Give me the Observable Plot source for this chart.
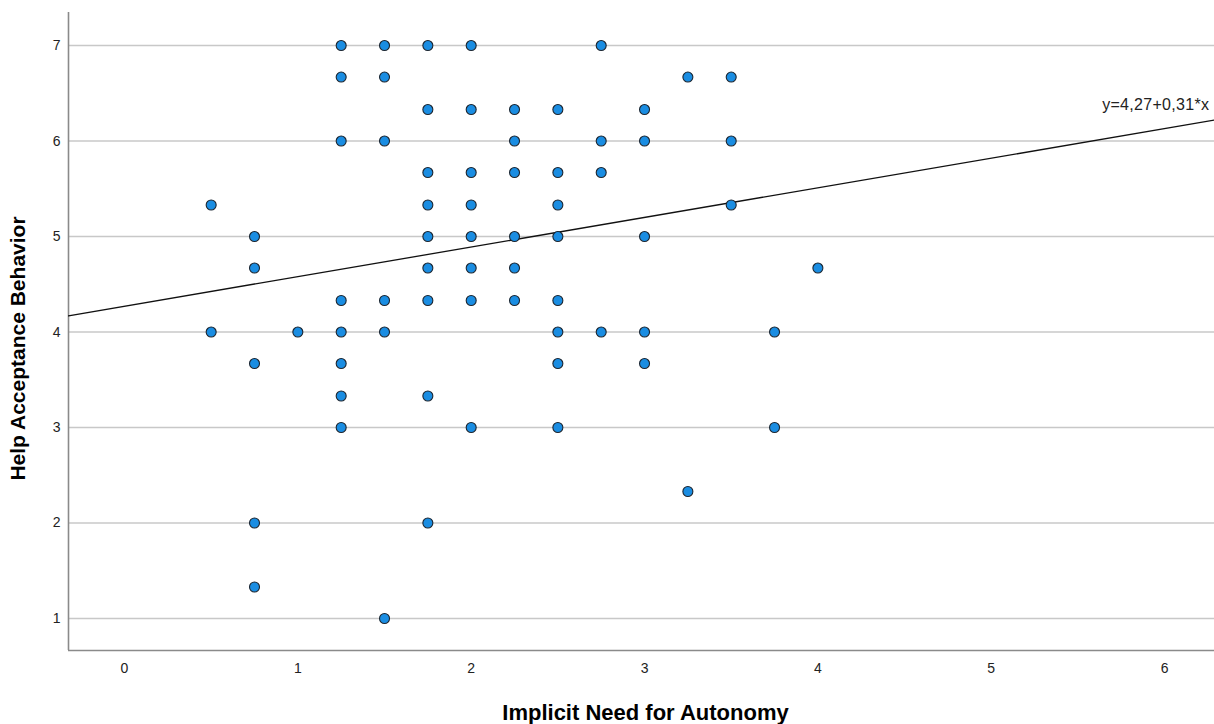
<!DOCTYPE html>
<html>
<head>
<meta charset="utf-8">
<script src="https://cdn.jsdelivr.net/npm/d3@7"></script>
<script src="https://cdn.jsdelivr.net/npm/@observablehq/plot@0.6"></script>
<style>
  html, body { margin: 0; padding: 0; background: #fff; overflow: hidden; }
</style>
</head>
<body>
<div id="chart"></div>
<script>
// Implicit Need for Autonomy (x) paired with Help Acceptance Behavior (y)
const autonomy = [
  1.25, 1.5, 1.75, 2, 2.75,
  1.25, 1.5, 3.25, 3.5,
  1.75, 2, 2.25, 2.5, 3,
  1.25, 1.5, 2.25, 2.75, 3, 3.5,
  1.75, 2, 2.25, 2.5, 2.75,
  0.5, 1.75, 2, 2.5, 3.5,
  0.75, 1.75, 2, 2.25, 2.5, 3,
  0.75, 1.75, 2, 2.25, 4,
  1.25, 1.5, 1.75, 2, 2.25, 2.5,
  0.5, 1, 1.25, 1.5, 2.5, 2.75, 3, 3.75,
  0.75, 1.25, 2.5, 3,
  1.25, 1.75,
  1.25, 2, 2.5, 3.75,
  3.25,
  0.75, 1.75,
  0.75,
  1.5
];
const helpAcceptance = [
  7, 7, 7, 7, 7,
  6.67, 6.67, 6.67, 6.67,
  6.33, 6.33, 6.33, 6.33, 6.33,
  6, 6, 6, 6, 6, 6,
  5.67, 5.67, 5.67, 5.67, 5.67,
  5.33, 5.33, 5.33, 5.33, 5.33,
  5, 5, 5, 5, 5, 5,
  4.67, 4.67, 4.67, 4.67, 4.67,
  4.33, 4.33, 4.33, 4.33, 4.33, 4.33,
  4, 4, 4, 4, 4, 4, 4, 4,
  3.67, 3.67, 3.67, 3.67,
  3.33, 3.33,
  3, 3, 3, 3,
  2.33,
  2, 2,
  1.33,
  1
];
const xTicks = [0, 1, 2, 3, 4, 5, 6];
const yTicks = [1, 2, 3, 4, 5, 6, 7];
const fitIntercept = 4.27;
const fitSlope = 0.31;
const fitLabel = "y=4,27+0,31*x";
const xTitle = "Implicit Need for Autonomy";
const yTitle = "Help Acceptance Behavior";

const xDomain = [-0.323, 6.288];
const yDomain = [0.665, 7.346];

const points = autonomy.map((x, i) => ({x, y: helpAcceptance[i]}));
const fitLine = xDomain.map(x => ({x, y: fitIntercept + fitSlope * x}));

const font = "'Liberation Sans', Arial, Helvetica, sans-serif";

const chart = Plot.plot({
  width: 1214,
  height: 724,
  marginLeft: 68,
  marginRight: 0,
  marginTop: 12,
  marginBottom: 74,
  style: {fontFamily: font, fontSize: "14px", color: "#222", background: "#fff"},
  x: {domain: xDomain, ticks: xTicks},
  y: {domain: yDomain, ticks: yTicks},
  marks: [
    Plot.ruleY(yTicks, {stroke: "#c8c8c8", strokeWidth: 1.6}),
    Plot.ruleX([xDomain[0]], {stroke: "#8a8a8a", strokeWidth: 1.6}),
    Plot.ruleY([yDomain[0]], {stroke: "#8a8a8a", strokeWidth: 1.6}),
    Plot.axisX({ticks: xTicks, tickSize: 0, tickPadding: 13, label: null, fontSize: 14, tickFormat: d => String(d)}),
    Plot.axisY({ticks: yTicks, tickSize: 0, tickPadding: 8, label: null, fontSize: 14, tickFormat: d => String(d)}),
    Plot.line(fitLine, {x: "x", y: "y", stroke: "#111", strokeWidth: 1.3, clip: true}),
    Plot.dot(points, {x: "x", y: "y", r: 5, fill: "#1a8de2", stroke: "#1b2530", strokeWidth: 1.1}),
    Plot.text([fitLabel], {
      x: 5.64, y: 6.33, text: d => d,
      textAnchor: "start", lineAnchor: "bottom",
      fontSize: 16, fill: "#222"
    }),
    Plot.text([xTitle], {
      frameAnchor: "bottom", dx: 4, dy: 69, text: d => d,
      textAnchor: "middle", lineAnchor: "bottom",
      fontSize: 22, fontWeight: "bold", fill: "#000"
    }),
    Plot.text([yTitle], {
      frameAnchor: "left", dx: -44, dy: 17, rotate: -90, text: d => d,
      textAnchor: "middle", lineAnchor: "bottom",
      fontSize: 21, fontWeight: "bold", fill: "#000"
    })
  ]
});
d3.select(chart).selectAll("text")
  .filter(function () { return this.textContent === fitLabel; })
  .style("letter-spacing", "0.3px");
document.getElementById("chart").appendChild(chart);
</script>
</body>
</html>
